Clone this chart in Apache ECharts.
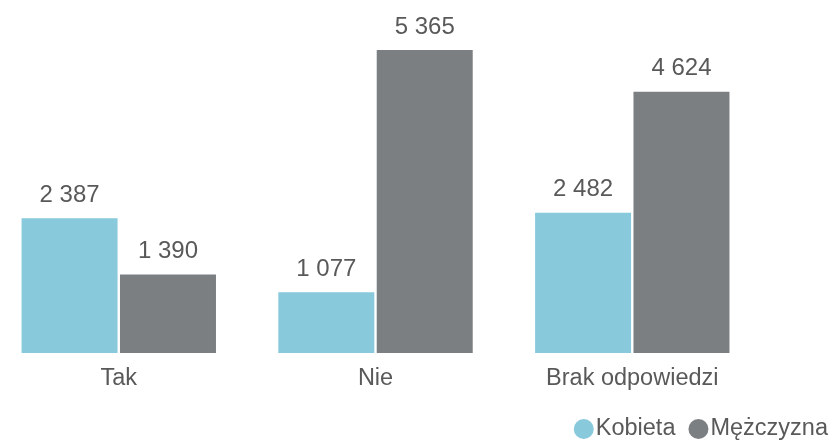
<!DOCTYPE html>
<html><head><meta charset="utf-8">
<script src="https://cdn.jsdelivr.net/npm/echarts@6/dist/echarts.min.js"></script>
<style>html,body{margin:0;padding:0;background:#fff}#c{width:835px;height:442px}</style>
</head><body><div id="c"></div>
<script>
const categories = ['Tak', 'Nie', 'Brak odpowiedzi'];
const kobieta = [2387, 1077, 2482];
const mezczyzna = [1390, 5365, 4624];
const seriesNames = ['Kobieta', 'Mężczyzna'];

const fmt = v => String(v).replace(/\B(?=(\d{3})+(?!\d))/g, ' ');
const chart = echarts.init(document.getElementById('c'));
const label = {show: true, position: 'top', distance: 11, color: '#595959', fontSize: 24,
  fontFamily: 'Liberation Sans', formatter: p => fmt(p.value)};
chart.setOption({
  animation: false,
  grid: {left: -9.6, width: 770.25, top: 50, bottom: 89, containLabel: false, outerBoundsMode: 'none'},
  legend: {right: 2, top: 412, icon: 'circle', itemWidth: 20, itemHeight: 20, itemGap: 13,
    textStyle: {color: '#595959', fontSize: 23.5, fontFamily: 'Liberation Sans', padding: [0,0,0,-3]},
    data: seriesNames},
  xAxis: {type: 'category', data: categories,
    axisLine: {show: false}, axisTick: {show: false},
    axisLabel: {color: '#595959', fontSize: 23.5, fontFamily: 'Liberation Sans', margin: 14}},
  yAxis: {type: 'value', min: 0, max: 5365, show: false, splitLine: {show: false}},
  series: [
    {name: seriesNames[0], type: 'bar', data: kobieta, barWidth: 96, barGap: '2.5%',
      itemStyle: {color: '#88c9dc'}, label},
    {name: seriesNames[1], type: 'bar', data: mezczyzna, barWidth: 96,
      itemStyle: {color: '#7c7f82'}, label}
  ]
});
</script></body></html>
